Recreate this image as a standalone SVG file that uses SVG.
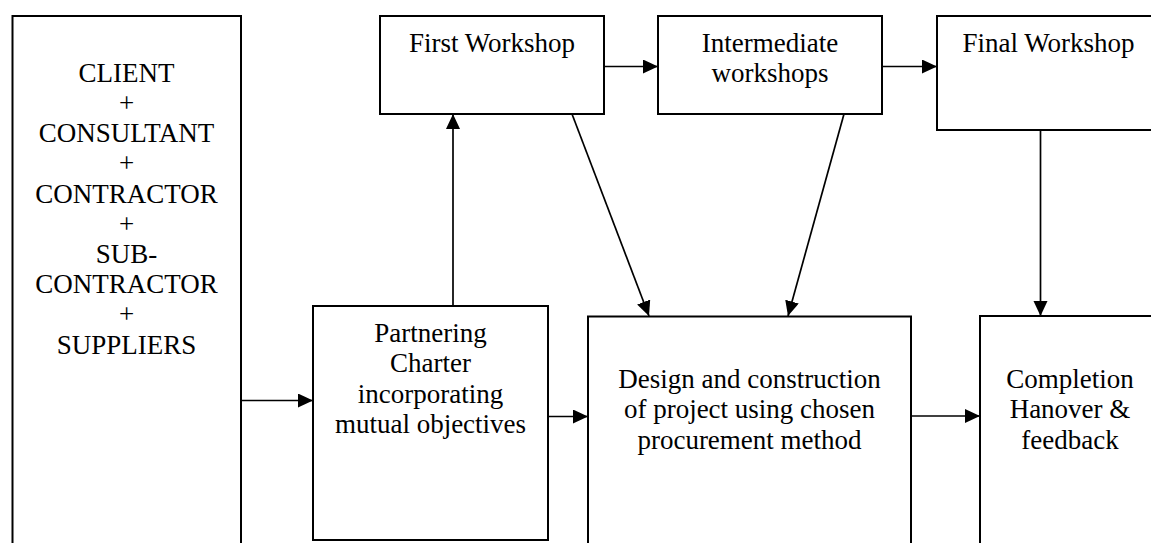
<svg xmlns="http://www.w3.org/2000/svg" width="1151" height="543" viewBox="0 0 1151 543">
<style>
.box{fill:#fff;stroke:#000;stroke-width:2}
.t{font-family:"Liberation Serif","Times New Roman",serif;font-size:27px;fill:#000;text-anchor:middle}
.c{stroke:#000;stroke-width:1.7;fill:none;marker-end:url(#ah)}
</style>
<defs>
<marker id="ah" markerUnits="userSpaceOnUse" markerWidth="16" markerHeight="15" refX="15" refY="7" orient="auto">
<path d="M0,0 L15,7 L0,14 z" fill="#000"/>
</marker>
</defs>
<rect width="1151" height="543" fill="#fff"/>
<g id="parties">
<rect class="box" x="12.5" y="16" width="228.5" height="540"/>
<text class="t" x="126.5" y="82">CLIENT</text>
<text class="t" x="126.5" y="112">+</text>
<text class="t" x="126.5" y="142">CONSULTANT</text>
<text class="t" x="126.5" y="172">+</text>
<text class="t" x="126.5" y="203">CONTRACTOR</text>
<text class="t" x="126.5" y="233">+</text>
<text class="t" x="126.5" y="263">SUB-</text>
<text class="t" x="126.5" y="293">CONTRACTOR</text>
<text class="t" x="126.5" y="323">+</text>
<text class="t" x="126.5" y="354">SUPPLIERS</text>
</g>
<g id="first-workshop">
<rect class="box" x="380" y="16" width="224" height="98"/>
<text class="t" x="492" y="52">First Workshop</text>
</g>
<g id="intermediate-workshops">
<rect class="box" x="658" y="16" width="224" height="98"/>
<text class="t" x="770" y="52">Intermediate</text>
<text class="t" x="770" y="82">workshops</text>
</g>
<g id="final-workshop">
<rect class="box" x="937" y="16" width="223" height="114"/>
<text class="t" x="1048.5" y="52">Final Workshop</text>
</g>
<g id="partnering-charter">
<rect class="box" x="313" y="306" width="235" height="234"/>
<text class="t" x="430.5" y="342">Partnering</text>
<text class="t" x="430.5" y="372">Charter</text>
<text class="t" x="430.5" y="403">incorporating</text>
<text class="t" x="430.5" y="433">mutual objectives</text>
</g>
<g id="design-construction">
<rect class="box" x="588" y="316.5" width="323" height="240"/>
<text class="t" x="749.5" y="388">Design and construction</text>
<text class="t" x="749.5" y="418">of project using chosen</text>
<text class="t" x="749.5" y="449">procurement method</text>
</g>
<g id="completion">
<rect class="box" x="980" y="316" width="180" height="240"/>
<text class="t" x="1070" y="388">Completion</text>
<text class="t" x="1070" y="418">Hanover &amp;</text>
<text class="t" x="1070" y="449">feedback</text>
</g>
<g id="connectors">
<line class="c" x1="241" y1="400.5" x2="313" y2="400.5"/>
<line class="c" x1="453" y1="306" x2="453" y2="114"/>
<line class="c" x1="548" y1="416.5" x2="588" y2="416.5"/>
<line class="c" x1="604" y1="66.5" x2="658" y2="66.5"/>
<line class="c" x1="882" y1="66.5" x2="937" y2="66.5"/>
<line class="c" x1="572" y1="114" x2="649" y2="316"/>
<line class="c" x1="844" y1="114" x2="788" y2="316"/>
<line class="c" x1="1040.5" y1="130" x2="1040.5" y2="316"/>
<line class="c" x1="911" y1="416" x2="980" y2="416"/>
</g>
</svg>
